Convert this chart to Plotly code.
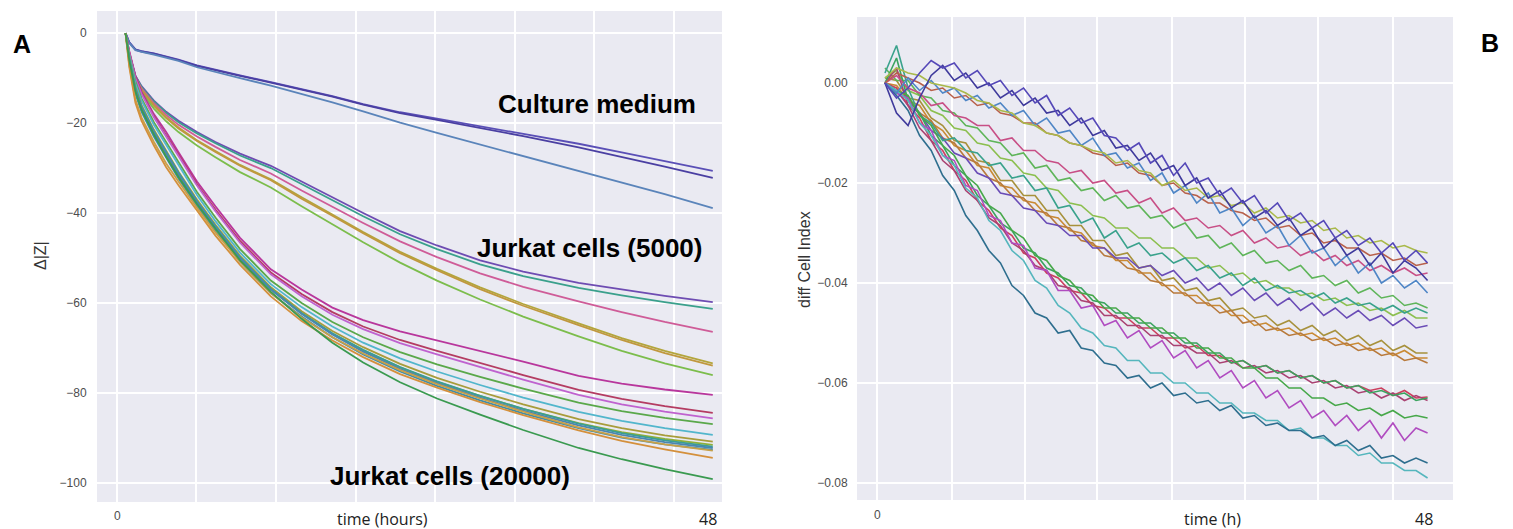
import plotly.graph_objects as go

# ---------------- Panel A data (Delta|Z| vs time in hours) ----------------
T_A = [0.7, 1.0, 1.5, 2, 3, 4, 5, 6.5, 8, 10, 12.5, 15, 17.5, 20, 23, 26, 29.5, 33, 37.5, 41, 44.5, 48.4]

cm_1 = [0, -2.0, -3.6, -4.0, -4.5, -5.2, -5.9, -7.2, -8.2, -9.4, -10.9, -12.4, -14.0, -15.8, -17.6, -19.0, -20.7, -22.3, -24.6, -26.5, -28.5, -30.6]
cm_2 = [0, -2.1, -3.7, -4.1, -4.6, -5.3, -6.0, -7.3, -8.3, -9.5, -11.0, -12.5, -14.1, -15.9, -17.8, -19.3, -21.1, -22.9, -25.4, -27.5, -29.7, -32.2]
cm_3 = [0, -2.2, -3.8, -4.2, -4.8, -5.5, -6.2, -7.6, -8.7, -10.0, -11.7, -13.5, -15.4, -17.4, -19.9, -22.2, -24.8, -27.3, -30.6, -33.2, -35.8, -38.9]

j5_purple = [0, -4.5, -9.5, -11.8, -15.0, -17.5, -19.5, -22.0, -24.2, -26.8, -29.5, -33.0, -36.5, -40.0, -44.0, -47.2, -50.5, -53.0, -55.5, -57.0, -58.4, -59.8]
j5_teal = [0, -4.6, -9.6, -12.0, -15.2, -17.7, -19.8, -22.3, -24.5, -27.2, -30.0, -33.6, -37.1, -40.7, -44.7, -48.0, -51.4, -54.0, -56.6, -58.3, -59.8, -61.3]
j5_pink = [0, -4.8, -9.8, -12.3, -15.6, -18.2, -20.4, -23.0, -25.3, -28.2, -31.2, -35.0, -38.6, -42.2, -46.3, -49.8, -53.4, -56.4, -59.6, -62.0, -64.2, -66.4]
j5_olive = [0, -4.9, -10.0, -12.6, -16.0, -18.7, -21.0, -23.8, -26.2, -29.3, -32.5, -36.5, -40.3, -44.2, -48.6, -52.4, -56.5, -60.2, -64.5, -67.8, -70.6, -73.4]
j5_ochre = [0, -5.0, -10.2, -12.8, -16.2, -18.9, -21.2, -24.0, -26.4, -29.5, -32.7, -36.8, -40.6, -44.5, -48.9, -52.7, -56.9, -60.6, -64.9, -68.2, -71.1, -73.9]
j5_green = [0, -5.1, -10.4, -13.2, -16.8, -19.6, -22.0, -25.0, -27.6, -30.9, -34.3, -38.5, -42.5, -46.5, -51.0, -55.0, -59.2, -63.0, -67.4, -70.6, -73.4, -76.0]

j20_magenta = [0, -4.0, -9.5, -13.0, -18.0, -22.0, -26.5, -33.0, -38.5, -45.5, -52.5, -57.0, -61.0, -63.8, -66.3, -68.3, -70.5, -73.0, -76.2, -77.9, -79.2, -80.4]
j20_maroon = [0, -4.2, -9.8, -13.3, -18.5, -22.6, -27.0, -33.6, -39.2, -46.2, -53.2, -58.0, -62.0, -65.2, -68.2, -70.6, -73.3, -76.0, -79.3, -81.3, -82.9, -84.4]
j20_violet = [0, -4.3, -10.0, -13.5, -18.7, -22.9, -27.3, -33.9, -39.6, -46.6, -53.6, -58.5, -62.6, -65.8, -68.9, -71.4, -74.2, -77.0, -80.4, -82.5, -84.1, -85.6]
j20_green = [0, -4.8, -10.8, -14.5, -19.8, -24.2, -28.8, -35.3, -41.0, -48.0, -55.0, -60.0, -64.2, -67.6, -70.9, -73.6, -76.4, -79.0, -82.1, -84.0, -85.5, -86.9]
j20_cyan = [0, -5.0, -11.2, -15.0, -20.4, -24.9, -29.5, -36.0, -41.8, -48.8, -55.8, -60.9, -65.2, -68.8, -72.3, -75.2, -78.2, -81.0, -84.2, -86.2, -87.8, -89.3]
j20_olive = [0, -5.5, -12.0, -16.0, -21.5, -26.2, -30.8, -37.0, -42.6, -49.5, -56.5, -61.8, -66.2, -69.8, -73.5, -76.6, -79.7, -82.5, -85.8, -87.8, -89.4, -90.8]
j20_lime = [0, -5.9, -12.8, -16.8, -22.3, -27.0, -31.5, -37.6, -43.2, -50.0, -57.0, -62.3, -66.8, -70.5, -74.3, -77.5, -80.6, -83.5, -86.7, -88.7, -90.2, -91.5]
j20_teal = [0, -5.6, -12.3, -16.3, -21.8, -26.5, -31.0, -37.3, -42.9, -49.8, -56.8, -62.2, -66.7, -70.4, -74.2, -77.4, -80.6, -83.5, -86.8, -88.9, -90.5, -91.9]
j20_steel = [0, -5.7, -12.5, -16.5, -22.0, -26.8, -31.3, -37.5, -43.1, -50.0, -57.0, -62.4, -67.0, -70.8, -74.6, -77.8, -81.0, -83.9, -87.2, -89.3, -90.9, -92.2]
j20_bluegreen = [0, -6.2, -13.5, -17.5, -23.0, -27.8, -32.3, -38.4, -44.0, -50.8, -57.8, -63.0, -67.6, -71.4, -75.2, -78.4, -81.6, -84.5, -87.8, -89.9, -91.4, -92.6]
j20_sand = [0, -7.0, -14.8, -18.8, -24.2, -29.0, -33.0, -38.8, -44.3, -50.8, -57.8, -63.2, -67.6, -71.2, -74.9, -78.0, -81.2, -84.1, -87.6, -89.8, -91.4, -92.8]
j20_orange = [0, -7.5, -15.5, -19.5, -25.0, -29.8, -33.8, -39.5, -45.0, -51.5, -58.5, -64.0, -68.3, -72.0, -75.8, -78.8, -82.0, -84.9, -88.3, -90.6, -92.5, -94.4]
j20_darkgreen = [0, -6.0, -13.0, -17.0, -22.5, -27.5, -32.0, -38.0, -43.5, -50.5, -57.5, -63.5, -68.8, -73.2, -77.6, -81.2, -84.8, -88.2, -92.2, -94.7, -96.9, -99.1]

A_series = [cm_1, cm_2, cm_3,
            j5_purple, j5_teal, j5_pink, j5_olive, j5_ochre, j5_green,
            j20_magenta, j20_maroon, j20_violet, j20_green, j20_cyan, j20_olive, j20_lime,
            j20_teal, j20_steel, j20_bluegreen, j20_sand, j20_orange, j20_darkgreen]
A_colors = ['#5a4fb6', '#4a3fa2', '#5a84ba',
            '#6e4cb2', '#3aa08c', '#cf5c98', '#b3a53c', '#c0983e', '#7cbd4c',
            '#b8369c', '#b43c62', '#bf62cf', '#5aa84a', '#52b6cc', '#a89c3a', '#8fb03a',
            '#3a9e94', '#4a86b0', '#3f8ea8', '#c8a048', '#d4903c', '#3a9a50']

# ---------------- Panel B data (diff Cell Index, units of 1e-3) ----------------
T_B = [round(0.7 + i * 1.015, 3) for i in range(48)]

b_purple1 = [0, -3, -1, 2, 4.5, 3, 4, 1, 2.5, -0.5, 0.5, -2.5, -1, -4, -2.5, -6.5, -5, -8, -7, -10.5, -11, -13.5, -12, -16, -14.5, -18.5, -16, -20, -19, -22.5, -21, -24, -22.5, -26, -24, -27.5, -26, -29, -27.5, -31, -29.5, -32.5, -31, -34, -32, -35.5, -33.5, -36]
b_purple2 = [0, -6, -8.5, -3, 1.5, 3.5, 0.5, 2, -1, 0, -3, -1.5, -4.5, -3, -6, -5.5, -8.5, -7, -10.5, -9.5, -13, -12.5, -15.5, -14, -17.5, -16.5, -20.5, -19, -23, -21.5, -25, -23.5, -27, -25.5, -28.5, -27, -30.5, -29, -33, -31, -34.5, -33, -36.5, -34, -38, -35.5, -37, -39.5]
b_blue = [0, -2, 1, -1.5, 0.5, -2, -1, -3.5, -2.5, -5, -4, -6.5, -5.5, -8.5, -7, -10, -9.5, -12.5, -11, -14.5, -14, -17, -16, -19.5, -18, -22, -20.5, -24, -22, -26, -25, -28.5, -26.5, -30, -28.5, -32.5, -30.5, -34, -33, -36.5, -34.5, -38, -36, -40, -38.5, -41, -39.5, -42]
b_olive = [1, 3, 2, 1.5, 0, -0.5, -1, -2, -3.5, -4, -5.5, -6, -8, -8.5, -10, -10.5, -12, -12.5, -13.5, -14, -16, -15.5, -17.5, -18, -20.5, -19.5, -21.5, -21, -23, -22.5, -24.5, -24, -26, -25, -27, -26.5, -28, -27.5, -29.5, -29, -31, -30.5, -32, -31.5, -33, -32.5, -33.5, -34]
b_redbrown = [0, 2, 1, 0, -1.5, -1, -3, -2.5, -4.5, -4, -6, -6.5, -8, -8, -10, -10.5, -12, -12.5, -14, -14.5, -16.5, -16, -18, -18.5, -20.5, -20, -22, -22.5, -24, -24, -25.5, -26, -27.5, -27, -29, -28.5, -30.5, -30, -32, -31.5, -33, -33, -34.5, -34, -35.5, -35, -36.5, -36]
b_pink = [0, 1.5, -1, -2, -4.5, -4, -6.5, -7, -8.5, -8.5, -11.5, -11, -13.5, -13.5, -15.5, -16, -18, -17.5, -20, -19.5, -22, -21.5, -24, -23, -26, -25, -27.5, -27, -29, -28.5, -30.5, -29.5, -32, -31, -33, -32.5, -34.5, -33.5, -35.5, -34.5, -36.5, -35.5, -37.5, -36.5, -38, -37, -38.5, -38]
b_teal = [2, 7.5, -1, -6.5, -8, -11.5, -11, -13.5, -14, -16.5, -16, -19, -18.5, -21.5, -21, -25, -24.5, -28, -27, -31, -29.5, -33, -32, -34.5, -34, -36, -35, -37.5, -36.5, -39, -38, -40.5, -39, -41.5, -40.5, -42, -41.5, -43, -42, -44, -43, -44.5, -44, -45.5, -44.5, -46, -45, -46]
b_green = [3, 0.5, 0.5, -2.5, -3, -5.5, -6, -8.5, -9, -11.5, -12, -14.5, -14, -17, -16.5, -19.5, -19, -21.5, -21, -23.5, -22.5, -25, -24.5, -27, -26.5, -29, -28, -31, -30.5, -33, -32, -34.5, -33.5, -36, -35.5, -37.5, -36.5, -39, -38.5, -40.5, -39.5, -42, -41, -43, -42.5, -44.5, -44, -45]
b_lightgreen = [1, 2.5, -1.5, -2.5, -5.5, -6.5, -9, -9.5, -12, -12.5, -15, -15.5, -18, -18.5, -21, -21.5, -24, -24.5, -26.5, -27, -29, -29, -31, -31, -33, -33, -35, -35, -37, -36.5, -38.5, -38, -40, -39.5, -41, -41, -42.5, -42, -43.5, -43, -44.5, -44, -45.5, -45, -46.5, -45.5, -47, -47]
b_purple3 = [0, -1.5, -4.5, -6, -9.5, -11, -14, -15, -18, -19, -22, -22.5, -25, -25.5, -28, -28.5, -30.5, -30.5, -33, -33, -35, -35, -37, -36.5, -38.5, -37.5, -40, -39, -41.5, -40, -42.5, -41, -43.5, -42, -44.5, -43, -45.5, -44, -46.5, -45, -47, -45.5, -47.5, -46.5, -48.5, -47, -49, -48.5]
b_orange = [0, -0.5, -3.5, -4.5, -8, -9.5, -12.5, -13.5, -16.5, -17, -20.5, -21, -23.5, -24, -26.5, -27, -29.5, -30, -32.5, -33, -35.5, -35.5, -38, -38, -40.5, -40.5, -42.5, -42.5, -44.5, -44.5, -46.5, -46.5, -48.5, -48, -49.5, -49, -50.5, -50, -51.5, -51, -52.5, -52, -53.5, -53, -54.5, -53.5, -55, -55]
b_olivebrown = [1, 0.5, -3, -3.5, -7, -8.5, -11.5, -12, -15.5, -16, -19.5, -19.5, -22.5, -22.5, -25.5, -25.5, -28.5, -28.5, -31.5, -31.5, -34.5, -34, -37, -36.5, -39.5, -39, -41.5, -41, -43.5, -43, -45.5, -45, -47, -46.5, -48.5, -47.5, -49.5, -48.5, -50.5, -49.5, -51.5, -50.5, -52.5, -51.5, -53.5, -52.5, -54, -54]
b_brown = [0, -2, -3, -6, -7.5, -11, -12, -15, -16, -19, -20, -22.5, -23, -25.5, -26, -28.5, -29, -31.5, -32, -34.5, -35, -37, -37.5, -39.5, -40, -42, -42, -44, -44, -46, -45.5, -48, -47.5, -49.5, -49, -50.5, -50, -51.5, -51, -52.5, -52, -53.5, -53, -54.5, -54, -55.5, -55, -56]
b_red = [0, -1, -4.5, -7, -11.5, -13.5, -17.5, -19.5, -23.5, -25.5, -29, -30.5, -34, -35, -38, -39, -41.5, -42, -44.5, -45, -47, -47, -49, -49, -51, -51, -53, -52.5, -54.5, -54.5, -56, -55.5, -57, -56.5, -58, -57.5, -59, -58.5, -60, -59.5, -61, -60.5, -61.5, -61, -62.5, -61.5, -63, -62.8]
b_maroon = [0, 3, -4.5, -9, -11.5, -15.5, -17.5, -21.5, -23.5, -27, -28.5, -32, -33.5, -36.5, -37.5, -40.5, -41, -43.5, -44, -46.5, -46.5, -48.5, -48.5, -50.5, -50.5, -52.5, -52.5, -54, -54, -56, -55.5, -57, -56.5, -58, -57.5, -59, -58.5, -60, -59.5, -61, -60.5, -62, -61.5, -63, -62, -63.5, -62.5, -63.5]
b_green2 = [0, 5, -3.5, -6, -10.5, -12.5, -16.5, -18.5, -22.5, -24.5, -28, -29.5, -33, -34, -37, -38, -40.5, -41, -43.5, -44, -46, -46, -48, -48, -50, -50, -52, -52, -54, -54, -56, -55.5, -57, -56.5, -58, -57.5, -59, -58.5, -60, -59.5, -61, -60.5, -62, -61.5, -62.5, -62, -63.5, -63]
b_green3 = [0, -1.5, -2.5, -6.5, -8.5, -12.5, -14.5, -18.5, -20.5, -24.5, -26, -29.5, -31, -34.5, -35.5, -38.5, -39.5, -42, -42.5, -45, -45, -47, -47, -49, -49, -51, -51, -53, -53, -55, -55, -57, -57, -59, -59, -61, -61, -63, -63, -64.5, -64, -65.5, -65, -66.5, -65.5, -67, -66.5, -67]
b_magenta = [0, -2, -3, -8, -9.5, -14.5, -15.5, -20.5, -21.5, -26.5, -27.5, -32, -32.5, -37, -37.5, -41.5, -41.5, -45, -44.5, -48.5, -47.5, -51, -49.5, -53, -51.5, -55, -53.5, -57, -55.5, -59, -57.5, -61, -59.5, -63, -61.5, -65, -63.5, -67, -65.5, -68.5, -66.5, -69.5, -67.5, -71, -68, -71.5, -69, -70]
b_cyan = [0, -1.5, -3.5, -8, -10.5, -14.5, -16.5, -21, -23, -27.5, -29.5, -33.5, -35.5, -39.5, -41, -44.5, -46, -49, -50, -52.5, -53, -55.5, -55.5, -58, -58, -60, -60, -62, -62, -64, -64, -66, -66, -67.5, -67.5, -69.5, -69, -71, -71, -72.5, -72.5, -74.5, -74, -76, -76, -77.5, -77.5, -79]
b_darkteal = [0, -2.5, -5.5, -10.5, -13.5, -18.5, -21.5, -26.5, -29.5, -33.5, -36, -40.5, -42.5, -46, -47, -50, -49.5, -53, -53.5, -56, -56.5, -59, -58.5, -61, -60, -62.5, -62, -64, -63.5, -65.5, -64.5, -67, -66.5, -68.5, -68, -69.5, -69.5, -71, -70.5, -72.5, -71.5, -73.5, -72.5, -75, -74.5, -76, -75, -76]

B_series = [b_orange, b_olivebrown, b_brown, b_purple3, b_lightgreen, b_green, b_teal,
            b_red, b_maroon, b_green2, b_green3, b_magenta, b_cyan, b_darkteal,
            b_pink, b_redbrown, b_blue, b_olive, b_purple2, b_purple1]
B_colors = ['#c98a34', '#a7913c', '#b87a3c', '#6a4cb6', '#8cbf4f', '#5fb55a', '#3aa28c',
            '#cc3f5e', '#a94272', '#3aa35f', '#47a84a', '#b04cc0', '#55b6bd', '#2e6e8e',
            '#c84f86', '#b8604a', '#4f86c6', '#a9b94a', '#3f3a9c', '#5548b8']
B_SCALE = 1e-3

A_yticks = [0, -20, -40, -60, -80, -100]
B_yticks = [0.0, -0.02, -0.04, -0.06, -0.08]
A_xgrid = [0, 6.46, 12.92, 19.38, 25.84, 32.3, 38.76, 45.22]
B_xgrid = [0, 6.55, 12.97, 19.38, 25.9, 32.35, 38.8, 45.4]

# page body adds an 8px margin: the figure is sized to the visible area
OFF = 8
W, H = 1513 - OFF, 529 - OFF
fig = go.Figure()

for vals, col in zip(A_series, A_colors):
    fig.add_trace(go.Scatter(x=T_A, y=vals, mode='lines', line=dict(color=col, width=1.8),
                             xaxis='x', yaxis='y', showlegend=False, hoverinfo='skip'))
for vals, col in zip(B_series, B_colors):
    fig.add_trace(go.Scatter(x=T_B, y=[v * B_SCALE for v in vals], mode='lines',
                             line=dict(color=col, width=1.6),
                             xaxis='x2', yaxis='y2', showlegend=False, hoverinfo='skip'))

tickfont = dict(family='Liberation Sans, Arial, sans-serif', size=12, color='#4d4d4d')
grid = dict(showgrid=True, gridcolor='white', gridwidth=1.5, zeroline=False, showline=False)


def pxx(p):
    return (p - OFF) / W


def pxy(p):
    return 1 - (p - OFF) / H


fig.update_layout(
    width=W, height=H, margin=dict(l=0, r=0, t=0, b=0),
    paper_bgcolor='white', plot_bgcolor='#EAEAF2',
    xaxis=dict(domain=[pxx(97), pxx(722)], range=[-1.62, 49.15], tickvals=A_xgrid,
               showticklabels=False, ticks='', anchor='y', **grid),
    yaxis=dict(domain=[pxy(502), pxy(11)], range=[-104.2, 4.9], tickvals=A_yticks,
               ticktext=[('\u2212' + str(-v)) if v < 0 else str(v) for v in A_yticks],
               ticks='outside', ticklen=7, tickcolor='rgba(0,0,0,0)', tickfont=tickfont,
               anchor='x', **grid),
    xaxis2=dict(domain=[pxx(857), pxx(1453)], range=[-1.76, 50.64], tickvals=B_xgrid,
                showticklabels=False, ticks='', anchor='y2', **grid),
    yaxis2=dict(domain=[pxy(500), pxy(17)], range=[-0.0834, 0.0132], tickvals=B_yticks,
                ticktext=[('\u2212' + '%.2f' % (-v)) if v < 0 else '%.2f' % v for v in B_yticks],
                ticks='outside', ticklen=6, tickcolor='rgba(0,0,0,0)', tickfont=tickfont,
                anchor='x2', **grid),
)

bold = dict(family='Liberation Sans, Arial, sans-serif', size=26, color='black')
label_font = dict(family='Open Sans, sans-serif', size=16, color='#222222')
title_font = dict(family='Liberation Sans, Arial, sans-serif', size=16, color='#333333')

ann = []
# panel letters
ann.append(dict(text='<b>A</b>', x=pxx(22), y=pxy(44), font=dict(bold, size=25)))
ann.append(dict(text='<b>B</b>', x=pxx(1490), y=pxy(43), font=dict(bold, size=25)))
# group labels
ann.append(dict(text='<b>Culture medium</b>', x=pxx(597), y=pxy(104), font=bold))
ann.append(dict(text='<b>Jurkat cells (5000)</b>', x=pxx(589), y=pxy(248), font=bold))
ann.append(dict(text='<b>Jurkat cells (20000)</b>', x=pxx(450), y=pxy(476), font=bold))
# x labels
ann.append(dict(text='time (hours)', x=pxx(382), y=pxy(519), font=label_font))
ann.append(dict(text='time (h)', x=pxx(1212), y=pxy(519), font=label_font))
ann.append(dict(text='48', x=pxx(708), y=pxy(519), font=label_font))
ann.append(dict(text='48', x=pxx(1424), y=pxy(519), font=label_font))
ann.append(dict(text='0', x=pxx(117), y=pxy(516), font=tickfont))
ann.append(dict(text='0', x=pxx(877), y=pxy(515), font=tickfont))
# y titles
ann.append(dict(text='\u0394|Z|', x=pxx(40), y=pxy(256), textangle=-90, font=title_font))
ann.append(dict(text='diff Cell Index', x=pxx(804), y=pxy(260), textangle=-90, font=title_font))

for a in ann:
    a.update(xref='paper', yref='paper', showarrow=False, xanchor='center', yanchor='middle')
fig.update_layout(annotations=ann)

fig.write_html('out.html')
